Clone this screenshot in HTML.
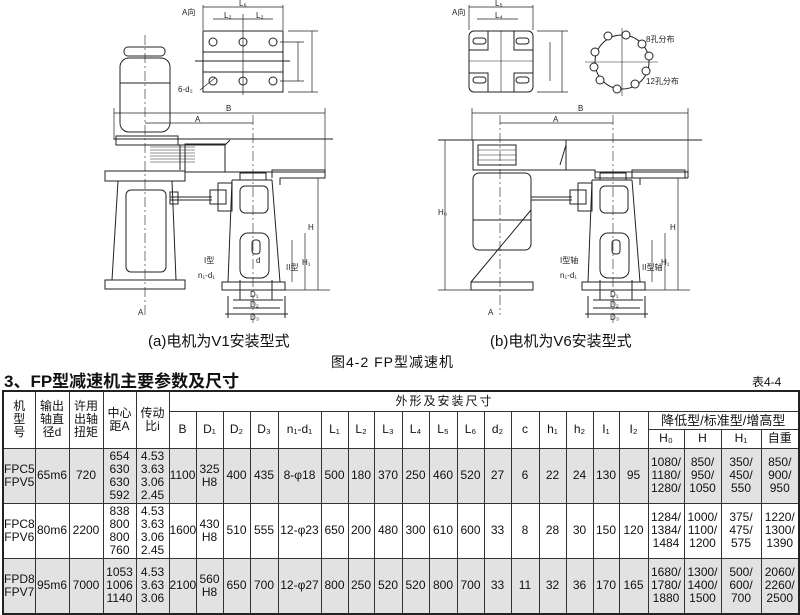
<!DOCTYPE html>
<html><head><meta charset="utf-8"><style>
body{margin:0;width:800px;height:615px;background:#fff;position:relative;overflow:hidden;font-family:"Liberation Sans","Noto Sans CJK SC",sans-serif;color:#111}
svg{position:absolute;left:0;top:0}
.cap{position:absolute;font-size:15px;white-space:nowrap}
table{position:absolute;left:2px;top:390px;border-collapse:collapse;table-layout:fixed;width:796px;border:2px solid #222;font-size:12px}
td{border:1px solid #333;text-align:center;padding:0;line-height:13px;overflow:hidden;white-space:nowrap}
tr.g td{background:#e2e2e2}
tr.d td{height:54px}
</style></head><body>
<svg width="800" height="390" viewBox="0 0 800 390" fill="none" stroke="#222" stroke-width="1">
<defs>
<g id="gb">
 <path d="M232 180 L228 282 M272 180 L280 282 M232 180 L272 180"/>
 <rect x="240" y="173" width="26" height="7"/>
 <rect x="240" y="186" width="28" height="27" rx="5"/>
 <rect x="240" y="233" width="29" height="45" rx="8"/>
 <rect x="222" y="282" width="63" height="8"/>
 <path d="M272 178 L272 170 L325 170 L325 178 L280 178 L280 185"/>
 <rect x="218" y="183" width="14" height="28"/>
 <rect x="210" y="190" width="16" height="14"/>
 <rect x="252" y="240" width="8" height="14" rx="3"/>
 <path d="M228 296 L228 318 M285 296 L285 318 M233 300 L283 300 M233 308 L280 308 M225 314 L288 314 M240 280 L240 300 M272 280 L272 300"/>
 <path d="M292 240 L292 282 M305 233 L305 290 M318 178 L318 290 M282 290 L330 290" stroke-width=".7"/>
</g>
</defs>
<rect x="203" y="31" width="80" height="61"/>
<path d="M203 52 L283 52 M203 72 L283 72 M195 61 L290 61" />
<g>
<circle cx="213" cy="42" r="4"/><circle cx="243" cy="42" r="4"/><circle cx="273" cy="42" r="4"/>
<circle cx="213" cy="81" r="4"/><circle cx="243" cy="81" r="4"/><circle cx="273" cy="81" r="4"/>
</g>
<path d="M203 5 L203 30 M283 5 L283 30 M203 7 L283 7 M213 19 L273 19 M243 14 L243 95 M288 31 L318 31 M288 92 L318 92 M312 31 L312 92 M298 42 L298 81 M280 42 L304 42 M280 81 L304 81" stroke-width=".7"/>
<path d="M200 90 L215 78" stroke-width=".7"/>
<rect x="124" y="47" width="41" height="9" rx="4"/>
<rect x="120" y="58" width="50" height="74" rx="9"/>
<path d="M120 83 L170 83"/>
<rect x="116" y="136" width="62" height="9"/>
<path d="M114 139 L333 139 M178 145 L225 145 L225 172 M180 145 L180 170 M225 145 L230 140"/>
<rect x="185" y="144" width="40" height="28"/>
<path d="M150 147 L195 147 M150 150 L195 150 M150 153 L195 153 M150 156 L195 156 M150 159 L195 159 M150 162 L195 162" stroke-width=".5"/>
<path d="M225 172 L325 172"/>
<rect x="105" y="171" width="80" height="10"/>
<path d="M118 181 L112 280 M172 181 L176 280"/>
<rect x="126" y="190" width="40" height="82" rx="5"/>
<rect x="105" y="280" width="80" height="9"/>
<path d="M170 197 L212 197 M170 200 L212 200"/>
<rect x="170" y="192" width="8" height="12"/>
<use href="#gb"/>
<path d="M145 35 L145 315 M253 115 L253 325" stroke-width=".6" stroke-dasharray="10 3 2 3"/>
<path d="M114 108 L114 140 M325 108 L325 170 M114 113 L325 113 M145 123 L253 123" stroke-width=".7"/>
<rect x="469" y="31" width="64" height="61" rx="5"/>
<path d="M469 61 L533 61 M501 31 L501 92" stroke-width=".6"/>
<path d="M488 31 L488 50 L469 50 M514 31 L514 50 L533 50 M488 92 L488 73 L469 73 M514 92 L514 73 L533 73"/>
<rect x="473" y="38" width="13" height="6" rx="3"/><rect x="516" y="38" width="13" height="6" rx="3"/>
<rect x="473" y="77" width="13" height="6" rx="3"/><rect x="516" y="77" width="13" height="6" rx="3"/>
<path d="M469 5 L469 30 M533 5 L533 30 M469 7 L533 7 M477 19 L518 19 M537 31 L568 31 M537 92 L568 92 M562 31 L562 92 M550 42 L550 81" stroke-width=".7"/>
<circle cx="622" cy="62" r="27"/>
<path d="M585 62 L658 62 M622 28 L622 96" stroke-width=".6"/>
<g fill="#fff"><circle cx="608" cy="36" r="4"/><circle cx="626" cy="35" r="4"/><circle cx="642" cy="44" r="4"/><circle cx="649" cy="56" r="4"/><circle cx="646" cy="71" r="4"/><circle cx="635" cy="84" r="4"/><circle cx="617" cy="89" r="4"/><circle cx="600" cy="80" r="4"/><circle cx="594" cy="67" r="4"/><circle cx="595" cy="52" r="4"/></g>
<path d="M438 140 L702 140"/>
<path d="M473 140 L473 170 L566 170 L566 140 M566 145 L560 165" />
<rect x="478" y="145" width="38" height="20"/>
<path d="M478 150 L516 150 M478 155 L516 155 M478 160 L516 160" stroke-width=".5"/>
<path d="M566 170 L595 170 L595 178 L688 178 M595 172 L688 172 M688 170 L688 178"/>
<rect x="473" y="173" width="58" height="77" rx="6"/>
<path d="M473 220 L531 220 M531 210 L471 282"/>
<rect x="471" y="282" width="62" height="8"/>
<path d="M531 197 L572 197 M531 200 L572 200"/>
<use href="#gb" transform="translate(360 0)"/>
<path d="M500 115 L500 315 M613 115 L613 325" stroke-width=".6" stroke-dasharray="10 3 2 3"/>
<path d="M472 108 L472 140 M688 108 L688 170 M472 113 L688 113 M500 123 L613 123 M445 140 L445 290 M438 290 L475 290" stroke-width=".7"/>
<g font-size="8" fill="#222" stroke="none" font-family="Liberation Sans,Noto Sans CJK SC,sans-serif">
<text x="182" y="15">A向</text><text x="239" y="6">L₆</text><text x="224" y="18">L₂</text><text x="256" y="18">L₂</text><text x="178" y="92">6-d₂</text>
<text x="226" y="111">B</text><text x="195" y="122">A</text><text x="308" y="230">H</text><text x="302" y="265">H₁</text><text x="204" y="263">I型</text><text x="286" y="270">II型</text><text x="198" y="278">n₁-d₁</text><text x="250" y="297">D₁</text><text x="250" y="307">D₂</text><text x="250" y="320">D₃</text><text x="138" y="315">A</text><text x="256" y="263">d</text>
<text x="452" y="15">A向</text><text x="495" y="6">L₅</text><text x="495" y="18">L₄</text><text x="646" y="42">8孔分布</text><text x="646" y="84">12孔分布</text>
<text x="578" y="111">B</text><text x="553" y="122">A</text><text x="438" y="215">H₀</text><text x="670" y="230">H</text><text x="661" y="265">H₁</text><text x="560" y="263">I型轴</text><text x="642" y="270">II型轴</text><text x="560" y="278">n₁-d₁</text><text x="610" y="297">D₁</text><text x="610" y="307">D₂</text><text x="610" y="320">D₃</text><text x="488" y="315">A</text>
</g>
</svg>
<div class="cap" style="left:148px;top:330px">(a)电机为V1安装型式</div>
<div class="cap" style="left:490px;top:330px">(b)电机为V6安装型式</div>
<div class="cap" style="left:331px;top:352px;font-size:14px;letter-spacing:1px">图4-2 FP型减速机</div>
<div class="cap" style="left:4px;top:367px;font-size:17px;font-weight:bold">3、FP型减速机主要参数及尺寸</div>
<div class="cap" style="left:752px;top:373px;font-size:12px">表4-4</div>
<table>
<colgroup><col style="width:32px"><col style="width:34px"><col style="width:34px"><col style="width:33px"><col style="width:33px"><col style="width:27px"><col style="width:27px"><col style="width:27px"><col style="width:28px"><col style="width:43px"><col style="width:27px"><col style="width:26px"><col style="width:28px"><col style="width:27px"><col style="width:28px"><col style="width:27px"><col style="width:27px"><col style="width:28px"><col style="width:27px"><col style="width:27px"><col style="width:26px"><col style="width:29px"><col style="width:36px"><col style="width:37px"><col style="width:40px"><col style="width:38px"></colgroup>
<tr style="height:20px"><td rowspan="3">机<br>型<br>号</td><td rowspan="3">输出<br>轴直<br>径d</td><td rowspan="3">许用<br>出轴<br>扭矩</td><td rowspan="3">中心<br>距A</td><td rowspan="3">传动<br>比i</td><td colspan="21" style="text-align:left;padding-left:226px;letter-spacing:2px">外形及安装尺寸</td></tr>
<tr style="height:18px"><td rowspan="2">B</td><td rowspan="2">D₁</td><td rowspan="2">D₂</td><td rowspan="2">D₃</td><td rowspan="2">n₁-d₁</td><td rowspan="2">L₁</td><td rowspan="2">L₂</td><td rowspan="2">L₃</td><td rowspan="2">L₄</td><td rowspan="2">L₅</td><td rowspan="2">L₆</td><td rowspan="2">d₂</td><td rowspan="2">c</td><td rowspan="2">h₁</td><td rowspan="2">h₂</td><td rowspan="2">I₁</td><td rowspan="2">I₂</td><td colspan="4" style="font-size:13px">降低型/标准型/增高型</td></tr>
<tr style="height:19px"><td>H₀</td><td>H</td><td>H₁</td><td>自重</td></tr>
<tr class="d g"><td>FPC5<br>FPV5</td><td>65m6</td><td>720</td><td>654<br>630<br>630<br>592</td><td>4.53<br>3.63<br>3.06<br>2.45</td><td>1100</td><td>325<br>H8</td><td>400</td><td>435</td><td>8-φ18</td><td>500</td><td>180</td><td>370</td><td>250</td><td>460</td><td>520</td><td>27</td><td>6</td><td>22</td><td>24</td><td>130</td><td>95</td><td>1080/<br>1180/<br>1280/</td><td>850/<br>950/<br>1050</td><td>350/<br>450/<br>550</td><td>850/<br>900/<br>950</td></tr>
<tr class="d"><td>FPC8<br>FPV6</td><td>80m6</td><td>2200</td><td>838<br>800<br>800<br>760</td><td>4.53<br>3.63<br>3.06<br>2.45</td><td>1600</td><td>430<br>H8</td><td>510</td><td>555</td><td>12-φ23</td><td>650</td><td>200</td><td>480</td><td>300</td><td>610</td><td>600</td><td>33</td><td>8</td><td>28</td><td>30</td><td>150</td><td>120</td><td>1284/<br>1384/<br>1484</td><td>1000/<br>1100/<br>1200</td><td>375/<br>475/<br>575</td><td>1220/<br>1300/<br>1390</td></tr>
<tr class="d g"><td>FPD8<br>FPV7</td><td>95m6</td><td>7000</td><td>1053<br>1006<br>1140</td><td>4.53<br>3.63<br>3.06</td><td>2100</td><td>560<br>H8</td><td>650</td><td>700</td><td>12-φ27</td><td>800</td><td>250</td><td>520</td><td>520</td><td>800</td><td>700</td><td>33</td><td>11</td><td>32</td><td>36</td><td>170</td><td>165</td><td>1680/<br>1780/<br>1880</td><td>1300/<br>1400/<br>1500</td><td>500/<br>600/<br>700</td><td>2060/<br>2260/<br>2500</td></tr>
</table>
</body></html>
